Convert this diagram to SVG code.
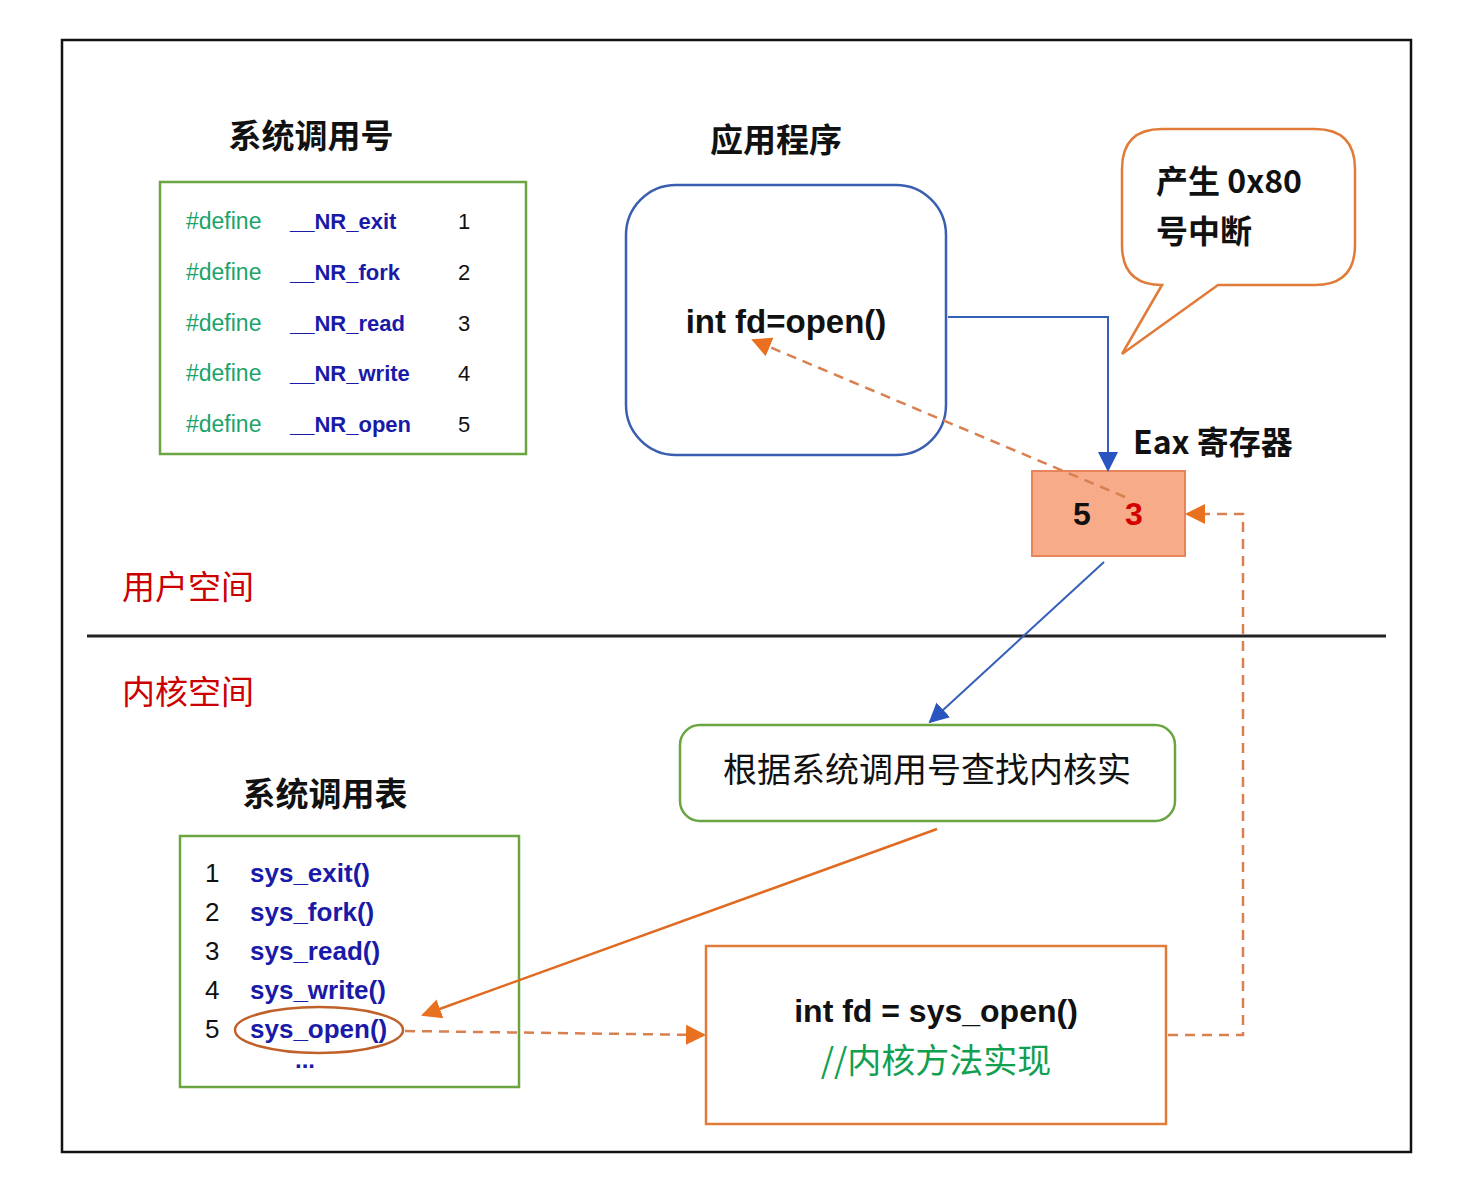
<svg xmlns="http://www.w3.org/2000/svg" width="1476" height="1191" viewBox="0 0 1476 1191">
<defs>
<style>
text{font-family:"Liberation Sans","Noto Sans CJK SC",sans-serif;}
.cjk{font-family:"Noto Sans CJK SC","Liberation Sans",sans-serif;}
.title{font-size:33px;font-weight:bold;fill:#111;text-anchor:middle;}
.def{font-size:23px;fill:#1aa36a;}
.nr{font-size:22px;font-weight:bold;fill:#1a1aa8;}
.num{font-size:22px;fill:#111;}
.tnum{font-size:26px;fill:#111;}
.fn{font-size:26px;font-weight:bold;fill:#1a1aa8;}
.red{font-size:33px;fill:#cc0000;}
.green{fill:none;stroke:#6aa542;stroke-width:2.5;}
.orange{fill:none;stroke:#e07b39;stroke-width:2.5;}
.blue{fill:none;stroke:#3a5fb0;stroke-width:2.5;}
.bline{fill:none;stroke:#3560b8;stroke-width:2;}
.oline{fill:none;stroke:#e06a20;stroke-width:2.5;}
.odash{fill:none;stroke:#d98050;stroke-width:2.5;stroke-dasharray:10 7;}
</style>
<marker id="abig" viewBox="0 0 10 10" refX="9" refY="5" markerWidth="20" markerHeight="20" markerUnits="userSpaceOnUse" orient="auto">
<path d="M0,0 L10,5 L0,10 z" fill="#2a55c0"/>
</marker>
<marker id="ao" viewBox="0 0 10 10" refX="9" refY="5" markerWidth="20" markerHeight="20" markerUnits="userSpaceOnUse" orient="auto">
<path d="M0,0 L10,5 L0,10 z" fill="#e8701f"/>
</marker>
</defs>
<rect width="1476" height="1191" fill="#fff"/>
<g id="frame">
<rect x="62" y="40" width="1349" height="1112" fill="none" stroke="#111" stroke-width="2.5"/>
<line x1="87" y1="636" x2="1386" y2="636" stroke="#222" stroke-width="3"/>
</g>
<g id="space-labels">
<text class="red cjk" x="122" y="599">用户空间</text>
<text class="red cjk" x="122" y="704">内核空间</text>
</g>
<g id="syscall-numbers">
<text class="title cjk" x="311" y="148">系统调用号</text>
<rect class="green" x="160" y="182" width="366" height="272"/>
<text class="def" x="186" y="229">#define</text><text class="nr" x="290" y="229">__NR_exit</text><text class="num" x="458" y="229">1</text>
<text class="def" x="186" y="280">#define</text><text class="nr" x="290" y="280">__NR_fork</text><text class="num" x="458" y="280">2</text>
<text class="def" x="186" y="331">#define</text><text class="nr" x="290" y="331">__NR_read</text><text class="num" x="458" y="331">3</text>
<text class="def" x="186" y="381">#define</text><text class="nr" x="290" y="381">__NR_write</text><text class="num" x="458" y="381">4</text>
<text class="def" x="186" y="432">#define</text><text class="nr" x="290" y="432">__NR_open</text><text class="num" x="458" y="432">5</text>
</g>
<g id="app">
<text class="title cjk" x="776" y="152" font-size="34">应用程序</text>
<rect class="blue" x="626" y="185" width="320" height="270" rx="50"/>
<text x="786" y="333" font-size="33" font-weight="bold" fill="#111" text-anchor="middle">int fd=open()</text>
</g>
<g id="callout">
<path class="orange" d="M1162,285 L1122,354 L1218,285 L1315,285 Q1355,285 1355,245 L1355,169 Q1355,129 1315,129 L1162,129 Q1122,129 1122,169 L1122,245 Q1122,285 1162,285 Z" fill="#fff"/>
<text class="cjk" x="1156" y="193" font-size="32" font-weight="bold" fill="#111">产生 0x80</text>
<text class="cjk" x="1156" y="243" font-size="32" font-weight="bold" fill="#111">号中断</text>
</g>
<g id="eax">
<text class="cjk" x="1133" y="454" font-size="32" font-weight="bold" fill="#111">Eax 寄存器</text>
<rect x="1032" y="471" width="153" height="85" fill="#f8ab88" stroke="#e8845a" stroke-width="2"/>
<text x="1082" y="525" font-size="32" font-weight="bold" fill="#111" text-anchor="middle">5</text>
<text x="1134" y="525" font-size="32" font-weight="bold" fill="#d40000" text-anchor="middle">3</text>
</g>
<g id="lookup">
<rect class="green" x="680" y="725" width="495" height="96" rx="20"/>
<text class="cjk" x="927" y="782" font-size="34" fill="#111" text-anchor="middle">根据系统调用号查找内核实</text>
</g>
<g id="syscall-table">
<text class="title cjk" x="325" y="806">系统调用表</text>
<rect class="green" x="180" y="836" width="339" height="251"/>
<text class="tnum" x="205" y="882">1</text><text class="fn" x="250" y="882">sys_exit()</text>
<text class="tnum" x="205" y="921">2</text><text class="fn" x="250" y="921">sys_fork()</text>
<text class="tnum" x="205" y="960">3</text><text class="fn" x="250" y="960">sys_read()</text>
<text class="tnum" x="205" y="999">4</text><text class="fn" x="250" y="999">sys_write()</text>
<text class="tnum" x="205" y="1038">5</text><text class="fn" x="250" y="1038">sys_open()</text>
<ellipse cx="319" cy="1030" rx="84" ry="23" fill="none" stroke="#c0602a" stroke-width="2.5"/>
<text x="305" y="1068" font-size="24" font-weight="bold" fill="#1a1aa8" text-anchor="middle">...</text>
</g>
<g id="kernel-impl">
<rect class="orange" x="706" y="946" width="460" height="178"/>
<text x="936" y="1022" font-size="32" font-weight="bold" fill="#111" text-anchor="middle">int fd = sys_open()</text>
<text class="cjk" x="936" y="1073" font-size="34" fill="#10a050" text-anchor="middle">//内核方法实现</text>
</g>
<g id="connectors">
<path class="bline" d="M948,317 L1108,317 L1108,470" marker-end="url(#abig)"/>
<path class="odash" d="M1125,497 L753,340" marker-end="url(#ao)"/>
<path class="bline" d="M1104,562 L930,722" marker-end="url(#abig)"/>
<path class="oline" d="M937,829 L423,1015" marker-end="url(#ao)"/>
<path class="odash" d="M405,1031 L704,1035" marker-end="url(#ao)"/>
<path class="odash" d="M1168,1035 L1243,1035 L1243,514 L1187,514" marker-end="url(#ao)"/>
</g>
</svg>
